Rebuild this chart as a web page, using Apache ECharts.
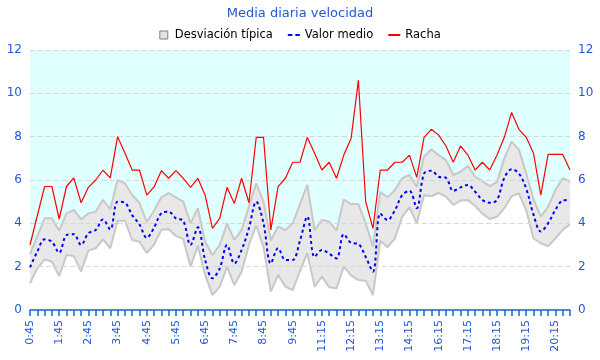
<!DOCTYPE html>
<html>
<head>
<meta charset="utf-8">
<script src="https://cdn.jsdelivr.net/npm/echarts@6/dist/echarts.min.js"></script>
<style>html,body{margin:0;padding:0;background:#fff}#c{width:600px;height:360px}</style>
</head>
<body>
<div id="c"></div>
<script>
var categories = ['0:45','1:00','1:15','1:30','1:45','2:00','2:15','2:30','2:45','3:00','3:15','3:30','3:45','4:00','4:15','4:30','4:45','5:00','5:15','5:30','5:45','6:00','6:15','6:30','6:45','7:00','7:15','7:30','7:45','8:00','8:15','8:30','8:45','9:00','9:15','9:30','9:45','10:00','10:30','10:45','11:15','11:30','11:45','12:00','12:15','12:30','12:45','13:00','13:15','13:30','13:45','14:00','14:15','14:30','15:45','16:00','16:15','16:30','16:45','17:00','17:15','17:30','17:45','18:00','18:15','18:30','18:45','19:00','19:15','19:30','19:45','20:00','20:15','20:30','20:45'];

var valorMedio = [1.97,2.69,3.26,3.15,2.64,3.46,3.5,3.0,3.54,3.69,
 4.18,3.72,5.0,4.95,4.38,3.95,3.33,3.8,4.47,4.54,
 4.23,4.12,3.0,3.82,2.31,1.46,1.92,3.0,2.15,2.77,
 3.77,5.0,4.0,2.15,2.85,2.31,2.31,3.2,4.31,2.45,
 2.77,2.6,2.38,3.5,3.1,3.05,2.45,1.77,4.46,4.15,
 4.6,5.3,5.5,4.7,6.3,6.43,6.15,6.1,5.5,5.66,
 5.77,5.46,5.08,4.95,5.08,6.1,6.5,6.3,5.6,4.4,
 3.62,4.0,4.62,5.05,5.08];

var desvSuperior = [2.58,3.4,4.23,4.23,3.66,4.46,4.62,4.18,4.46,4.54,
 5.08,4.65,6.0,5.85,5.31,4.95,4.05,4.58,5.2,5.4,
 5.2,5.0,4.0,4.7,3.15,2.54,3.0,4.0,3.23,3.7,
 4.77,5.85,5.0,3.2,3.85,3.69,4.0,4.9,5.77,3.69,
 4.15,4.08,3.66,5.1,4.89,4.89,4.0,2.92,5.46,5.2,
 5.54,6.08,6.23,5.69,7.1,7.41,7.15,6.92,6.23,6.38,
 6.65,6.15,5.95,5.72,5.9,7.0,7.77,7.4,6.31,5.1,
 4.31,4.77,5.54,6.08,5.92];

var desvInferior = [1.23,1.92,2.34,2.23,1.57,2.54,2.49,1.77,2.74,2.85,
 3.26,2.85,4.12,4.12,3.23,3.15,2.63,3.02,3.7,3.73,
 3.42,3.27,2.0,2.96,1.62,0.69,1.08,2.0,1.15,1.77,
 3.0,3.9,2.9,0.85,1.62,1.08,0.92,1.8,2.62,1.08,
 1.54,1.05,1.0,2.0,1.6,1.38,1.35,0.69,3.2,2.9,
 3.3,4.3,4.75,4.0,5.3,5.25,5.4,5.23,4.85,5.05,
 5.08,4.8,4.45,4.2,4.3,4.7,5.25,5.38,4.6,3.3,
 3.08,2.95,3.3,3.7,3.95];

var racha = [3.0,4.35,5.7,5.7,4.2,5.7,6.1,4.95,5.66,6.0,
 6.45,6.1,8.0,7.25,6.46,6.46,5.3,5.68,6.43,6.08,
 6.43,6.08,5.66,6.08,5.3,3.77,4.23,5.66,4.92,6.08,
 4.95,7.97,7.97,3.7,5.69,6.08,6.82,6.82,7.97,7.23,
 6.46,6.82,6.08,7.15,7.92,10.6,5.0,3.77,6.46,6.46,
 6.82,6.82,7.15,6.12,7.97,8.34,8.07,7.57,6.82,7.57,
 7.15,6.46,6.82,6.46,7.15,7.97,9.12,8.34,7.97,7.23,
 5.3,7.18,7.18,7.18,6.46];

var yMax = 12;

var bandWidth = desvSuperior.map(function(v,i){return v - desvInferior[i];});
var topFill = desvSuperior.map(function(v){return yMax - v;});

var blue = '#2456d8';
var font = 'DejaVu Sans';
var chart = echarts.init(document.getElementById('c'), null, {renderer:'canvas'});
chart.setOption({
  animation:false,
  backgroundColor:'#ffffff',
  textStyle:{fontFamily:font},
  title:{text:'Media diaria velocidad', left:'center', top:2,
    textStyle:{color:blue, fontSize:13, fontWeight:'normal', fontFamily:font}},
  legend:{top:24, left:'center', itemWidth:12, itemHeight:8, itemGap:15, itemTextGap:8,
    textStyle:{color:'#000', fontSize:11.5, fontFamily:font},
    data:[
      {name:'Desviación típica', icon:'path://M0,0h8v8h-8z', itemStyle:{color:'#e2e2e2', borderColor:'#808080', borderWidth:1}},
      {name:'Valor medio', icon:'path://M0,0h4.5v2h-4.5z M7.5,0h4.5v2h-4.5z', itemStyle:{color:'#0000ff', borderWidth:0}},
      {name:'Racha', icon:'path://M0,0h12v2h-12z', itemStyle:{color:'#ff0000', borderWidth:0}}
    ]},
  grid:{left:30, right:30, top:50, bottom:50},
  xAxis:{type:'category', data:categories, boundaryGap:false, z:3,
    axisLine:{lineStyle:{color:'#1c64d4', width:1.5}},
    axisTick:{interval:0, length:6, lineStyle:{color:'#1c64d4', width:1.5}},
    axisLabel:{interval:3, rotate:90, margin:10, color:blue, fontSize:11, fontFamily:font},
    splitLine:{show:false}},
  yAxis:[
    {type:'value', min:0, max:yMax, interval:2, position:'left', z:3,
      axisLine:{show:false}, axisTick:{show:false},
      axisLabel:{color:blue, fontSize:12, margin:8, fontFamily:font},
      splitLine:{show:true, lineStyle:{color:'#d9d6d6', type:[5,3], width:1}}},
    {type:'value', min:0, max:yMax, interval:2, position:'right', z:3,
      axisLine:{show:false}, axisTick:{show:false},
      axisLabel:{color:blue, fontSize:12, margin:8, fontFamily:font},
      splitLine:{show:false}}
  ],
  series:[
    {name:'base', type:'line', stack:'sd', data:desvInferior, symbol:'none', z:2,
      lineStyle:{color:'#c8c8c8', width:2}, itemStyle:{color:'#c8c8c8'}},
    {name:'Desviación típica', type:'line', stack:'sd', data:bandWidth, symbol:'none', z:2,
      lineStyle:{color:'#c8c8c8', width:2}, itemStyle:{color:'#e2e2e2'},
      areaStyle:{color:'#e8e8e8', opacity:1}},
    {name:'fondo', type:'line', stack:'sd', data:topFill, symbol:'none', z:1,
      lineStyle:{width:0}, areaStyle:{color:'#e0ffff', opacity:1}},
    {name:'Racha', type:'line', data:racha, symbol:'none', z:4,
      lineStyle:{color:'#ff0000', width:1.2}, itemStyle:{color:'#ff0000'}},
    {name:'Valor medio', type:'line', data:valorMedio, symbol:'none', z:5, smooth:0.35,
      lineStyle:{color:'#0000ff', width:2, type:[3,3]}, itemStyle:{color:'#0000ff'}}
  ]
});
</script>
</body>
</html>
